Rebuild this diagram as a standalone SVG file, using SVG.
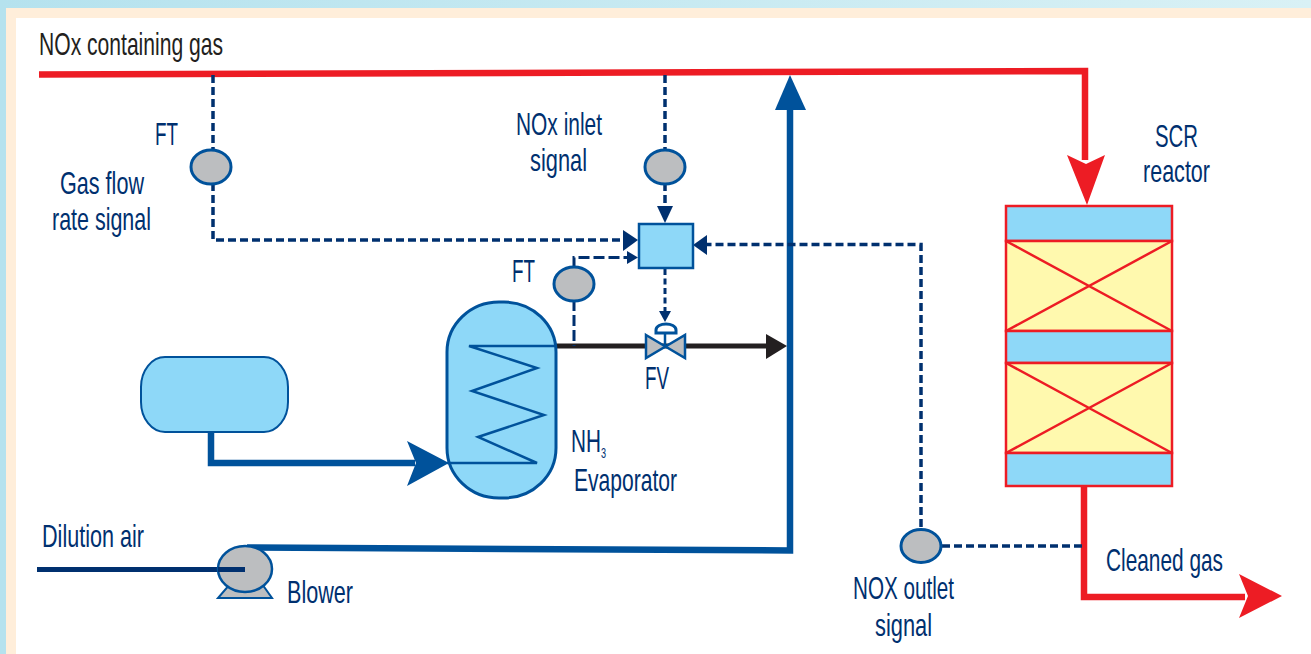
<svg xmlns="http://www.w3.org/2000/svg" width="1311" height="654" viewBox="0 0 1311 654">
<style>
text{font-family:"Liberation Sans",Arial,sans-serif;font-size:32px;fill:#00306f}
.dk{fill:#231f20}
.sig{fill:none;stroke:#00306f;stroke-width:3.5;stroke-dasharray:8 4}
.sig2{fill:none;stroke:#00306f;stroke-width:3;stroke-dasharray:11 4}
.sig3{fill:none;stroke:#00306f;stroke-width:3;stroke-dasharray:6 3.500}
.ft{fill:#bcbec0;stroke:#00529b;stroke-width:3}
.ah{fill:#00306f}
.red{fill:none;stroke:#ed1c24;stroke-width:6.500}
.blue{fill:none;stroke:#00529b;stroke-width:6.500}
.vessel{fill:#8ed8f8;stroke:#00529b;stroke-width:3}
.rb{fill:#8ed8f8;stroke:#ed1c24;stroke-width:2.500}
.ry{fill:#fff9ae;stroke:#ed1c24;stroke-width:2.500}
.rx{stroke:#ed1c24;stroke-width:2.500}
</style>
<defs>
<linearGradient id="bg" x1="0" y1="0" x2="1" y2="0"><stop offset="0" stop-color="#b5e2ee"/><stop offset="1" stop-color="#d9f1f5"/></linearGradient>
</defs>
<g id="background">
<rect width="1311" height="654" fill="url(#bg)"/>
<rect x="6" y="8" width="1305" height="646" fill="#ffeeda"/>
<rect x="16" y="18" width="1295" height="636" fill="#fff"/>
</g>
<g id="connectors">
<path class="red" d="M39 74.500L1085 71V160"/>
<polygon points="1067,155 1086,164 1105,155 1087,205" fill="#ed1c24"/>
<path class="red" d="M1084 486V597H1245"/>
<polygon points="1239,574 1282,596 1239,618 1248,596" fill="#ed1c24"/>
<path class="blue" d="M247 547.500L790 550.500V105"/>
<polygon points="775,110 790,75 806,110" fill="#00529b"/>
<path class="blue" d="M211 431V463H415"/>
<polygon points="407,441 449,463 407,486 416,463" fill="#00529b"/>
<path fill="none" stroke="#231f20" stroke-width="5" d="M555 346H770"/>
<polygon points="766,334 787,346 766,359" fill="#231f20"/>
<path fill="none" stroke="#00306f" stroke-width="5" d="M37 569.500H245"/>
<path class="sig" d="M213 75V240H625"/>
<polygon class="ah" points="623,230 638,240 623,251"/>
<path class="sig" d="M665 75V210"/>
<polygon class="ah" points="657,206 673,206 665,223"/>
<path class="sig" d="M1082 546H921V244.500H705"/>
<polygon class="ah" points="707,235 693,245 707,255"/>
<path class="sig2" d="M574 268V257.500H630"/>
<polygon class="ah" points="627,251 638,257.500 627,264"/>
<path class="sig2" d="M574 300V346"/>
<path class="sig3" d="M665 269V312"/>
<polygon class="ah" points="659,311 671,311 665,322"/>
</g>
<g id="ft-gas-flow"><ellipse class="ft" cx="211" cy="167" rx="20" ry="17"/></g>
<g id="ft-nox-inlet"><ellipse class="ft" cx="665" cy="167" rx="20" ry="17"/></g>
<g id="ft-evaporator"><ellipse class="ft" cx="574" cy="284" rx="20" ry="17"/></g>
<g id="ft-nox-outlet"><ellipse class="ft" cx="921" cy="546" rx="20" ry="16.500"/></g>
<g id="controller"><rect x="639" y="224" width="54" height="44" fill="#8ed8f8" stroke="#00529b" stroke-width="2.500"/></g>
<g id="valve-fv">
<polygon points="646,335 685,358 685,335 646,358" fill="#bcbec0" stroke="#00529b" stroke-width="2.500"/>
<path d="M665 346V333" stroke="#00529b" stroke-width="2.500"/>
<path d="M656 333V330C656 322 676 322 676 330V333Z" fill="#fff" stroke="#00529b" stroke-width="3"/>
</g>
<g id="tank"><rect x="141" y="357" width="147" height="75" rx="24" ry="30" fill="#8ed8f8" stroke="#00529b" stroke-width="2"/></g>
<g id="evaporator">
<rect x="447" y="302" width="109" height="196" rx="52" ry="50" class="vessel"/>
<path d="M556 346H469L537 368L472 391L544 415L478 437L537 463H447" fill="none" stroke="#00529b" stroke-width="2.500"/>
</g>
<g id="blower">
<polygon points="218,598 272,598 262,584 230,584" fill="#bcbec0" stroke="#00529b" stroke-width="2"/>
<ellipse cx="245" cy="569" rx="27" ry="23" fill="#bcbec0" stroke="#00529b" stroke-width="2.500"/>
<path d="M218 569.500H245" stroke="#00306f" stroke-width="5"/>
</g>
<g id="scr-reactor">
<rect class="rb" x="1006" y="206" width="166" height="35"/>
<rect class="ry" x="1006" y="241" width="166" height="90"/>
<rect class="rb" x="1006" y="331" width="166" height="32"/>
<rect class="ry" x="1006" y="363" width="166" height="90"/>
<rect class="rb" x="1006" y="453" width="166" height="33"/>
<path class="rx" d="M1006 241L1172 331M1172 241L1006 331M1006 363L1172 453M1172 363L1006 453" fill="none"/>
</g>
<g id="labels">
<text class="dk" x="39" y="55" textLength="184" lengthAdjust="spacingAndGlyphs">NOx containing gas</text>
<text x="155" y="145" textLength="23" lengthAdjust="spacingAndGlyphs">FT</text>
<text x="60" y="194" textLength="84" lengthAdjust="spacingAndGlyphs">Gas flow</text>
<text x="52" y="230" textLength="99" lengthAdjust="spacingAndGlyphs">rate signal</text>
<text x="516" y="135" textLength="86" lengthAdjust="spacingAndGlyphs">NOx inlet</text>
<text x="530" y="171" textLength="57" lengthAdjust="spacingAndGlyphs">signal</text>
<text x="512" y="282" textLength="23" lengthAdjust="spacingAndGlyphs">FT</text>
<text x="645" y="389" textLength="24" lengthAdjust="spacingAndGlyphs">FV</text>
<text x="571" y="452" textLength="35" lengthAdjust="spacingAndGlyphs">NH<tspan dy="6" style="font-size:14px">3</tspan></text>
<text x="574" y="491" textLength="103" lengthAdjust="spacingAndGlyphs">Evaporator</text>
<text x="42" y="547" textLength="102" lengthAdjust="spacingAndGlyphs">Dilution air</text>
<text x="287" y="603" textLength="66" lengthAdjust="spacingAndGlyphs">Blower</text>
<text x="853" y="599" textLength="101" lengthAdjust="spacingAndGlyphs">NOX outlet</text>
<text x="875" y="636" textLength="57" lengthAdjust="spacingAndGlyphs">signal</text>
<text x="1106" y="571" textLength="117" lengthAdjust="spacingAndGlyphs">Cleaned gas</text>
<text x="1155" y="147" textLength="43" lengthAdjust="spacingAndGlyphs">SCR</text>
<text x="1143" y="182" textLength="67" lengthAdjust="spacingAndGlyphs">reactor</text>
</g>
</svg>
